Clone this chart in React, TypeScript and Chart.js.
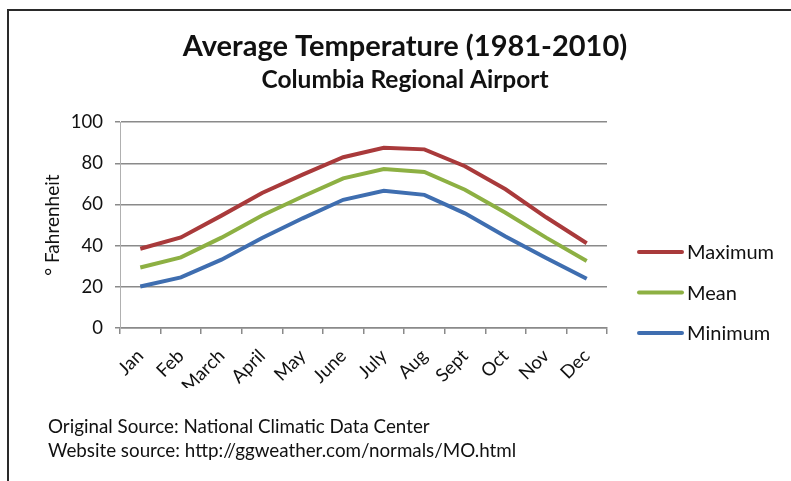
import { useEffect, useRef } from "react";
import { Chart, registerables } from "chart.js";

Chart.register(...registerables);

const months = ["Jan", "Feb", "March", "April", "May", "June", "July", "Aug", "Sept", "Oct", "Nov", "Dec"];
const maximum = [38.5, 44.0, 54.6, 65.6, 74.5, 83.0, 87.6, 86.8, 78.6, 67.4, 53.8, 41.2];
const mean = [29.4, 34.3, 43.9, 54.7, 63.9, 72.7, 77.2, 75.8, 67.2, 56.0, 43.9, 32.6];
const minimum = [20.2, 24.6, 33.2, 43.7, 53.3, 62.3, 66.7, 64.7, 55.7, 44.5, 34.0, 23.9];
const seriesNames = ["Maximum", "Mean", "Minimum"];
const seriesColors = ["#A93A3B", "#8DB043", "#3F6EB0"];
const yMin = 0;
const yMax = 100;
const yStep = 20;
const titleText = "Average Temperature (1981-2010)";
const subtitleText = "Columbia Regional Airport";
const yTitleText = "° Fahrenheit";
const footerLines = [
  "Original Source: National Climatic Data Center",
  "Website source: http://ggweather.com/normals/MO.html",
];

const FONT = "Lato, 'Open Sans', sans-serif";

const sideLegend = {
  id: "sideLegend",
  afterDraw(chart: any) {
    const { ctx, chartArea } = chart;
    ctx.save();
    chart.data.datasets.forEach((ds: any, i: number) => {
      const y = chartArea.bottom - 76 + i * 40.5;
      const x0 = chartArea.right + 32;
      ctx.strokeStyle = ds.borderColor;
      ctx.lineWidth = 4;
      ctx.lineCap = "round";
      ctx.beginPath();
      ctx.moveTo(x0, y);
      ctx.lineTo(x0 + 43, y);
      ctx.stroke();
      ctx.fillStyle = "#111";
      ctx.font = `20px ${FONT}`;
      ctx.textBaseline = "middle";
      ctx.textAlign = "left";
      ctx.fillText(ds.label, x0 + 48, y + 1);
    });
    ctx.restore();
  },
};

export default function App() {
  const ref = useRef<HTMLCanvasElement | null>(null);

  useEffect(() => {
    if (!ref.current) return;
    const values = [maximum, mean, minimum];
    const chart = new Chart(ref.current, {
      type: "line",
      data: {
        labels: months,
        datasets: values.map((v, i) => ({
          label: seriesNames[i],
          data: v,
          borderColor: seriesColors[i],
          backgroundColor: seriesColors[i],
          borderWidth: 4,
          pointRadius: 0,
          tension: 0,
          fill: false,
        })),
      },
      options: {
        animation: false,
        responsive: true,
        maintainAspectRatio: false,
        layout: { padding: { top: 10, left: 20, right: 1, bottom: 93 } },
        plugins: {
          legend: { display: false },
          tooltip: { enabled: false },
          title: {
            display: true,
            text: titleText,
            color: "#111",
            font: { family: FONT, size: 29, weight: "bold" },
            padding: { top: 19.5, bottom: 0 },
          },
          subtitle: {
            display: true,
            text: subtitleText,
            color: "#111",
            font: { family: FONT, size: 24.5, weight: "bold" },
            padding: { top: 1, bottom: 27.5 },
          },
        },
        scales: {
          x: {
            offset: true,
            grid: {
              offset: true,
              drawOnChartArea: false,
              drawTicks: true,
              tickLength: 6,
              color: "#8a8a8a",
              lineWidth: 1.5,
            },
            border: { color: "#8a8a8a", width: 1.5 },
            ticks: {
              minRotation: 45,
              maxRotation: 45,
              autoSkip: false,
              padding: 11,
              color: "#111",
              font: { family: FONT, size: 18.5 },
            },
            afterFit: (s: any) => {
              s.height = 60;
            },
          },
          y: {
            min: yMin,
            max: yMax,
            ticks: {
              stepSize: yStep,
              padding: 12,
              color: "#111",
              font: { family: FONT, size: 18.5 },
            },
            grid: { color: "#8a8a8a", lineWidth: 1.5, tickLength: 5 },
            border: { color: "#b0b0b0", width: 1 },
            title: {
              display: true,
              text: yTitleText,
              color: "#111",
              font: { family: FONT, size: 19 },
              padding: { top: 21, bottom: 0 },
            },
            afterFit: (s: any) => {
              s.width = 100;
            },
          },
          legendSpace: {
            position: "right",
            display: true,
            grid: { display: false, drawTicks: false },
            border: { display: false },
            ticks: { display: false },
            afterFit: (s: any) => {
              s.width = 183;
            },
          },
        },
      } as any,
      plugins: [sideLegend],
    });
    return () => chart.destroy();
  }, []);

  return (
    <div
      style={{
        position: "fixed",
        left: 0,
        top: 0,
        width: 791,
        height: 481,
        background: "#fff",
        overflow: "hidden",
      }}
    >
      <div
        style={{
          position: "absolute",
          left: 7,
          top: 9,
          width: 800,
          height: 500,
          borderLeft: "2px solid #2a2a2a",
          borderTop: "2px solid #2a2a2a",
        }}
      />
      <canvas ref={ref} style={{ position: "absolute", left: 0, top: 0, width: 791, height: 481 }} />
      {footerLines.map((t, i) => (
        <div
          key={i}
          style={{
            position: "absolute",
            left: 48,
            top: 417 + i * 24,
            fontFamily: FONT,
            fontSize: 18.8,
            lineHeight: 1,
            color: "#111",
            whiteSpace: "nowrap",
          }}
        >
          {t}
        </div>
      ))}
    </div>
  );
}
